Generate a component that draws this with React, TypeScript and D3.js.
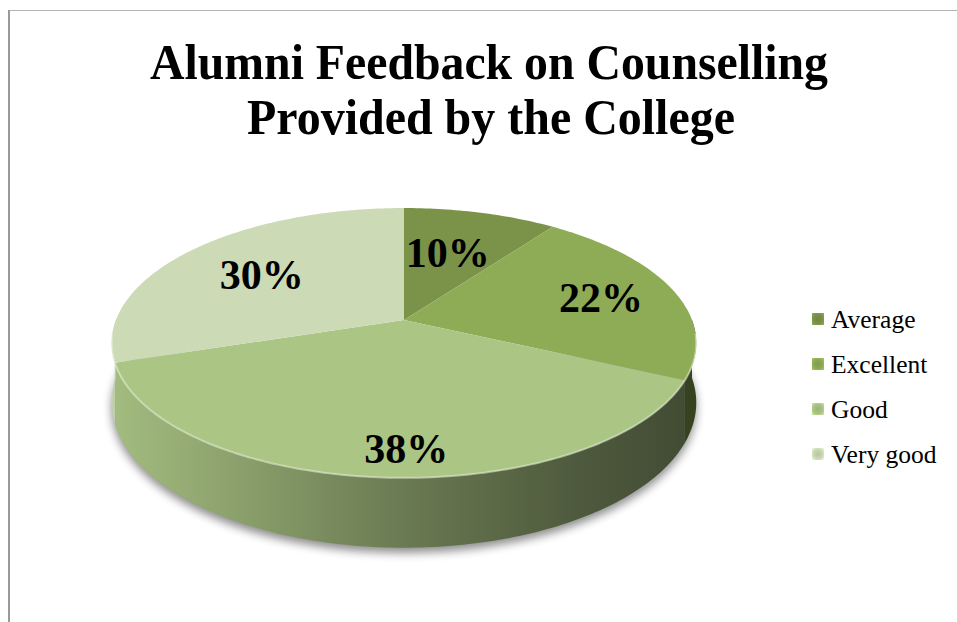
import { useMemo } from 'react';
import * as d3 from 'd3';

const categories = ['Average', 'Excellent', 'Good', 'Very good'];
const values = [10, 22, 38, 30];
const labels = ['10%', '22%', '38%', '30%'];
const colors = ['#7b9349', '#8eab55', '#abc585', '#ccdab6'];
const titleLines = ['Alumni Feedback on Counselling', 'Provided by the College'];

const W = 957;
const H = 622;
const SERIF = 'Liberation Serif';

// pseudo-3D projection of the pie disc
const cx = 404;
const cy = 320;
const A = 288; // horizontal radius
const B = 131; // vertical radius (before perspective)
const K = 0.17; // perspective strength
const T = 58; // thickness

function proj(theta: number, r: number, z: number): [number, number] {
  const u = r * Math.sin(theta);
  const v = -r * Math.cos(theta);
  const s = 1 / (1 - K * v);
  return [cx + A * u * s, cy + B * v * s + T * z * s];
}

function arcPts(a0: number, a1: number, z: number) {
  const n = Math.max(2, Math.ceil(((a1 - a0) * 180) / Math.PI));
  return d3.range(n + 1).map((i) => proj(a0 + ((a1 - a0) * i) / n, 1, z));
}

// label placement (radial fraction + small best-fit nudge, like Excel)
const labelR = [0.6, 0.72, 0.84, 0.64];
const labelNudge = [-5, 2, 20, -2];

export default function App() {
  const arcs = useMemo(
    () =>
      d3
        .pie<number>()
        .sort(null)
        .value((d) => d)(values),
    []
  );

  const line = d3.line();
  const wallRange: [number, number] = [Math.PI / 2, (3 * Math.PI) / 2];

  return (
    <svg width={W} height={H} style={{ position: 'absolute', left: 0, top: 0 }}>
      <defs>
        <filter id="shadow" x="-20%" y="-20%" width="140%" height="140%">
          <feGaussianBlur stdDeviation="5" />
        </filter>
        {colors.map((c, i) => {
          const stops = [
            [0, 0.15],
            [0.15, 0.45],
            [0.5, 1.35],
            [0.8, 2.2],
            [1, 2.7],
          ];
          return (
            <linearGradient
              key={i}
              id={`wall${i}`}
              gradientUnits="userSpaceOnUse"
              x1={cx - A}
              x2={cx + A}
              y1={0}
              y2={0}
            >
              {stops.map(([o, k]) => (
                <stop key={o} offset={o} stopColor={d3.color(c)!.darker(k).formatHex()} />
              ))}
            </linearGradient>
          );
        })}
        {colors.map((c, i) => (
          <radialGradient key={i} id={`leg${i}`} cx="0.5" cy="0.5" r="0.7">
            <stop offset="0" stopColor={d3.color(c)!.darker(0.3).formatHex()} />
            <stop offset="0.6" stopColor={c} />
            <stop offset="1" stopColor={d3.color(c)!.brighter(0.5).formatHex()} />
          </radialGradient>
        ))}
      </defs>

      <rect x={0} y={0} width={W} height={H} fill="#fff" />
      {/* chart border */}
      <line x1={9} y1={10.5} x2={W} y2={10.5} stroke="#b4b4b4" strokeWidth={1} />
      <line x1={9} y1={10} x2={9} y2={H} stroke="#9a9a9a" strokeWidth={2} />

      {/* title */}
      <text x={150} y={79} fontFamily={SERIF} fontWeight="bold" fontSize={50} textLength={678} lengthAdjust="spacingAndGlyphs">
        {titleLines[0]}
      </text>
      <text x={247} y={134} fontFamily={SERIF} fontWeight="bold" fontSize={50} textLength={488} lengthAdjust="spacingAndGlyphs">
        {titleLines[1]}
      </text>

      {/* shadow under the pie */}
      <path
        d={line(arcPts(Math.PI / 2 - 0.2, (3 * Math.PI) / 2 + 0.2, 1).map(([x, y]) => [x, y + 5]) as [number, number][])! + 'Z'}
        fill="#000"
        opacity={0.45}
        filter="url(#shadow)"
      />

      {/* side walls */}
      {arcs.map((a, i) => {
        const a0 = Math.max(a.startAngle, wallRange[0]);
        const a1 = Math.min(a.endAngle, wallRange[1]);
        if (a1 <= a0) return null;
        const top = arcPts(a0, a1, 0);
        const bottom = arcPts(a0, a1, 1).reverse();
        return <path key={i} d={line([...top, ...bottom])! + 'Z'} fill={`url(#wall${i})`} />;
      })}

      {/* top faces */}
      {arcs.map((a, i) => {
        const pts = [proj(0, 0, 0), ...arcPts(a.startAngle, a.endAngle, 0)];
        return <path key={i} d={line(pts)! + 'Z'} fill={colors[i]} />;
      })}

      {/* front rim highlight */}
      <path
        d={line(arcPts(Math.PI / 2 + 0.1, (3 * Math.PI) / 2 - 0.1, 0))!}
        fill="none"
        stroke="#e8f2d8"
        strokeOpacity={0.55}
        strokeWidth={2}
      />

      {/* data labels */}
      {arcs.map((a, i) => {
        const mid = (a.startAngle + a.endAngle) / 2;
        const [x, y] = proj(mid, labelR[i], 0);
        return (
          <text key={i} x={x + labelNudge[i]} y={y + 15} fontFamily={SERIF} fontWeight="bold" fontSize={42} textAnchor="middle">
            {labels[i]}
          </text>
        );
      })}

      {/* legend */}
      {categories.map((c, i) => {
        const y = 319 + i * 45;
        return (
          <g key={c}>
            <rect x={812} y={y - 6} width={12} height={12} fill={`url(#leg${i})`} />
            <text x={831} y={y + 9} fontFamily={SERIF} fontSize={25.5}>
              {c}
            </text>
          </g>
        );
      })}
    </svg>
  );
}
